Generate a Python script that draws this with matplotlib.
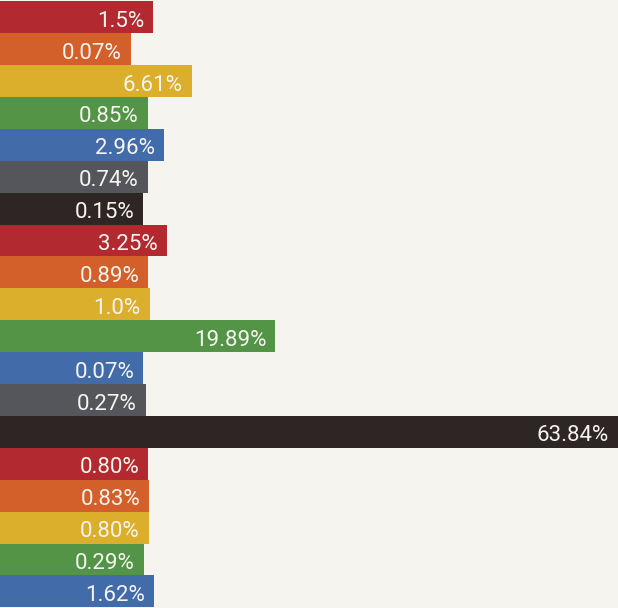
import matplotlib
matplotlib.use("Agg")
import matplotlib.pyplot as plt

# labels as printed on the bars
labels = ["1.5%", "0.07%", "6.61%", "0.85%", "2.96%", "0.74%", "0.15%",
          "3.25%", "0.89%", "1.0%", "19.89%", "0.07%", "0.27%", "63.84%",
          "0.80%", "0.83%", "0.80%", "0.29%", "1.62%"]
# visible bar lengths (chart units)
bar_lengths = [153.3, 130.7, 191.7, 147.7, 163.7, 147.7, 143.0,
               166.7, 148.3, 149.7, 275.3, 143.3, 145.7, 625.0,
               148.3, 149.3, 148.7, 144.0, 154.0]
palette = ["#B22A30", "#D3602A", "#DBAF2C", "#539446", "#426BAA", "#55565C", "#2E2624"]
bg = "#F5F4EF"

plt.rcParams['font.family'] = ['Roboto', 'DejaVu Sans']

fig = plt.figure(figsize=(6.18, 6.08), dpi=100, facecolor=bg)
ax = fig.add_axes([0, 0, 1, 1])
ax.set_facecolor(bg)

colors = [palette[i % len(palette)] for i in range(len(labels))]
ypos = list(range(len(labels)))
ax.barh(ypos, bar_lengths, height=1.0, color=colors, linewidth=0)

for y, w, lab in zip(ypos, bar_lengths, labels):
    x = min(w, 618) - 9
    ax.text(x, y + 0.30, lab, ha="right", va="baseline",
            color=bg, fontsize=16)

ax.set_xlim(0, 618)
ax.set_ylim(18.52, -0.54)
ax.axis("off")

plt.savefig("out.png", dpi=100, facecolor=bg)
